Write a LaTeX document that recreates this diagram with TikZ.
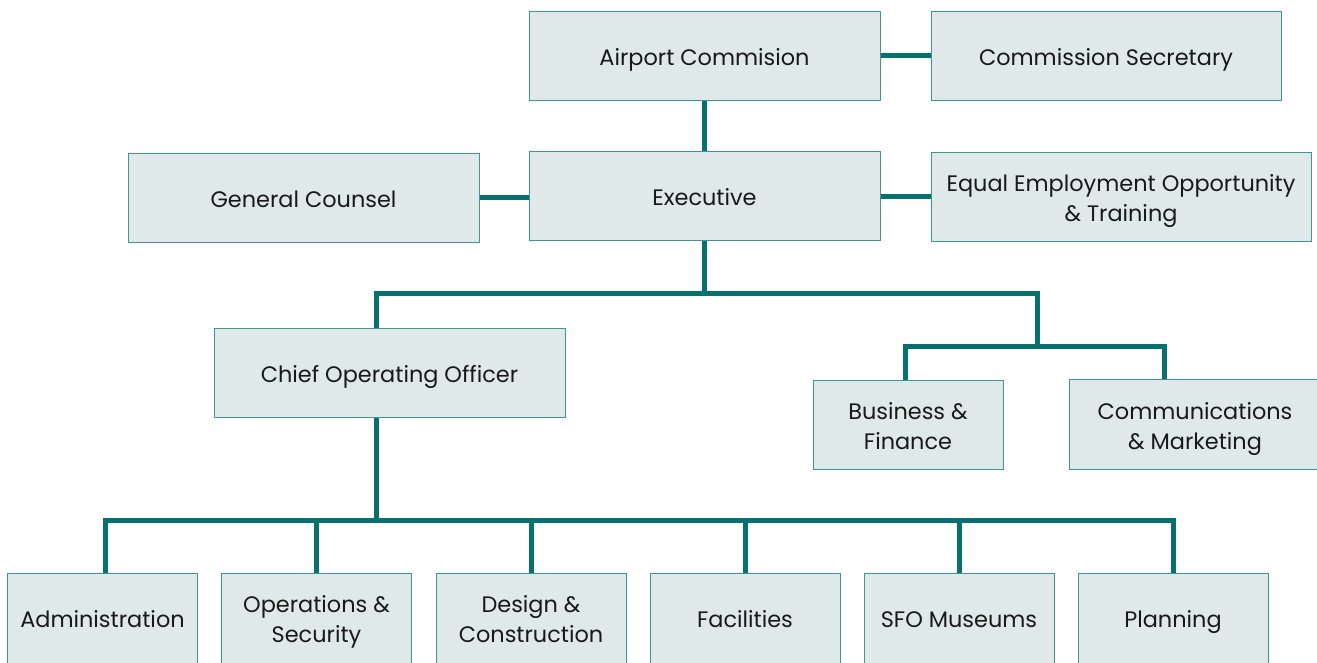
\documentclass[tikz,border=0pt]{standalone}
\usepackage{fontspec}
\setmainfont{Poppins}
\definecolor{boxfill}{HTML}{DFE9E9}
\definecolor{boxline}{HTML}{3F9494}
\definecolor{conncol}{HTML}{06716F}
\begin{document}
\begin{tikzpicture}[x=1pt,y=-1pt,
  box/.style={draw=boxline, fill=boxfill, line width=1pt, minimum height=89pt,
    align=center, inner sep=0pt, text=black!90,
    font=\fontsize{22.4}{30}\selectfont},
  oneline/.style={text height=19pt, text depth=0pt},
  twoline/.style={text height=50pt, text depth=0pt},
  lowone/.style={minimum height=95pt, text height=13pt, text depth=0pt},
  lowtwo/.style={minimum height=95pt, text height=44pt, text depth=0pt},
  widebox/.style={box, minimum width=351pt},
  smallbox/.style={box, minimum width=190pt},
  conn/.style={draw=conncol, line width=5pt, line join=miter}]
\clip (0,0) rectangle (1317,662);
\fill[white] (0,0) rectangle (1317,662);
% nodes
\node[widebox, oneline] (ac) at (704.5,55.5) {Airport Commision};
\node[widebox, oneline, minimum width=350pt] (cs) at (1106,55.5) {Commission Secretary};
\node[widebox, oneline] (ex) at (704.5,195.5) {Executive};
\node[widebox, oneline] (gc) at (303.5,197.5) {General Counsel};
\node[widebox, twoline, minimum width=380pt] (eeo) at (1121,196.5) {Equal Employment Opportunity\\\& Training};
\node[widebox, oneline] (coo) at (389.5,372.5) {Chief Operating Officer};
\node[smallbox, twoline] (bf) at (908,424.5) {Business \&\\Finance};
\node[widebox, twoline, minimum width=252pt, minimum height=90pt] (cm) at (1195,424) {Communications\\\& Marketing};
\node[smallbox, lowone] (adm) at (102.5,620.5) {Administration};
\node[smallbox, lowtwo] (ops) at (316.5,620.5) {Operations \&\\Security};
\node[smallbox, lowtwo] (des) at (531,620.5) {Design \&\\Construction};
\node[smallbox, lowone] (fac) at (745,620.5) {Facilities};
\node[smallbox, lowone] (sfo) at (959,620.5) {SFO Museums};
\node[smallbox, lowone] (pla) at (1173,620.5) {Planning};
% junction coordinates
\coordinate (barL) at (376,293);
\coordinate (barR) at (1037,293);
\coordinate (b2M) at (1037,346);
\coordinate (b2L) at (905,346);
\coordinate (b2R) at (1164,346);
\coordinate (b3) at (376,520);
% connectors
\draw[conn] (ac.east) -- (cs.west);
\draw[conn] (ac.south) -- (ex.north);
\draw[conn] (gc.east) -- (gc.east -| ex.west);
\draw[conn] (ex.east |- eeo.west) -- (eeo.west);
\draw[conn] (ex.south) -- (ex.south |- barL);
\draw[conn] (coo.north -| barL) -- (barL) -- (barR) -- (b2M);
\draw[conn] (bf.north -| b2L) -- (b2L) -- (b2R) -- (cm.north -| b2R);
\draw[conn] (coo.south -| b3) -- (b3);
\draw[conn] (adm.north -| 105,0) -- (105,520) -- (pla.north |- b3) -- (pla.north);
\draw[conn] (ops.north) -- (ops.north |- b3);
\draw[conn] (des.north) -- (des.north |- b3);
\draw[conn] (fac.north) -- (fac.north |- b3);
\draw[conn] (sfo.north) -- (sfo.north |- b3);
\end{tikzpicture}
\end{document}
